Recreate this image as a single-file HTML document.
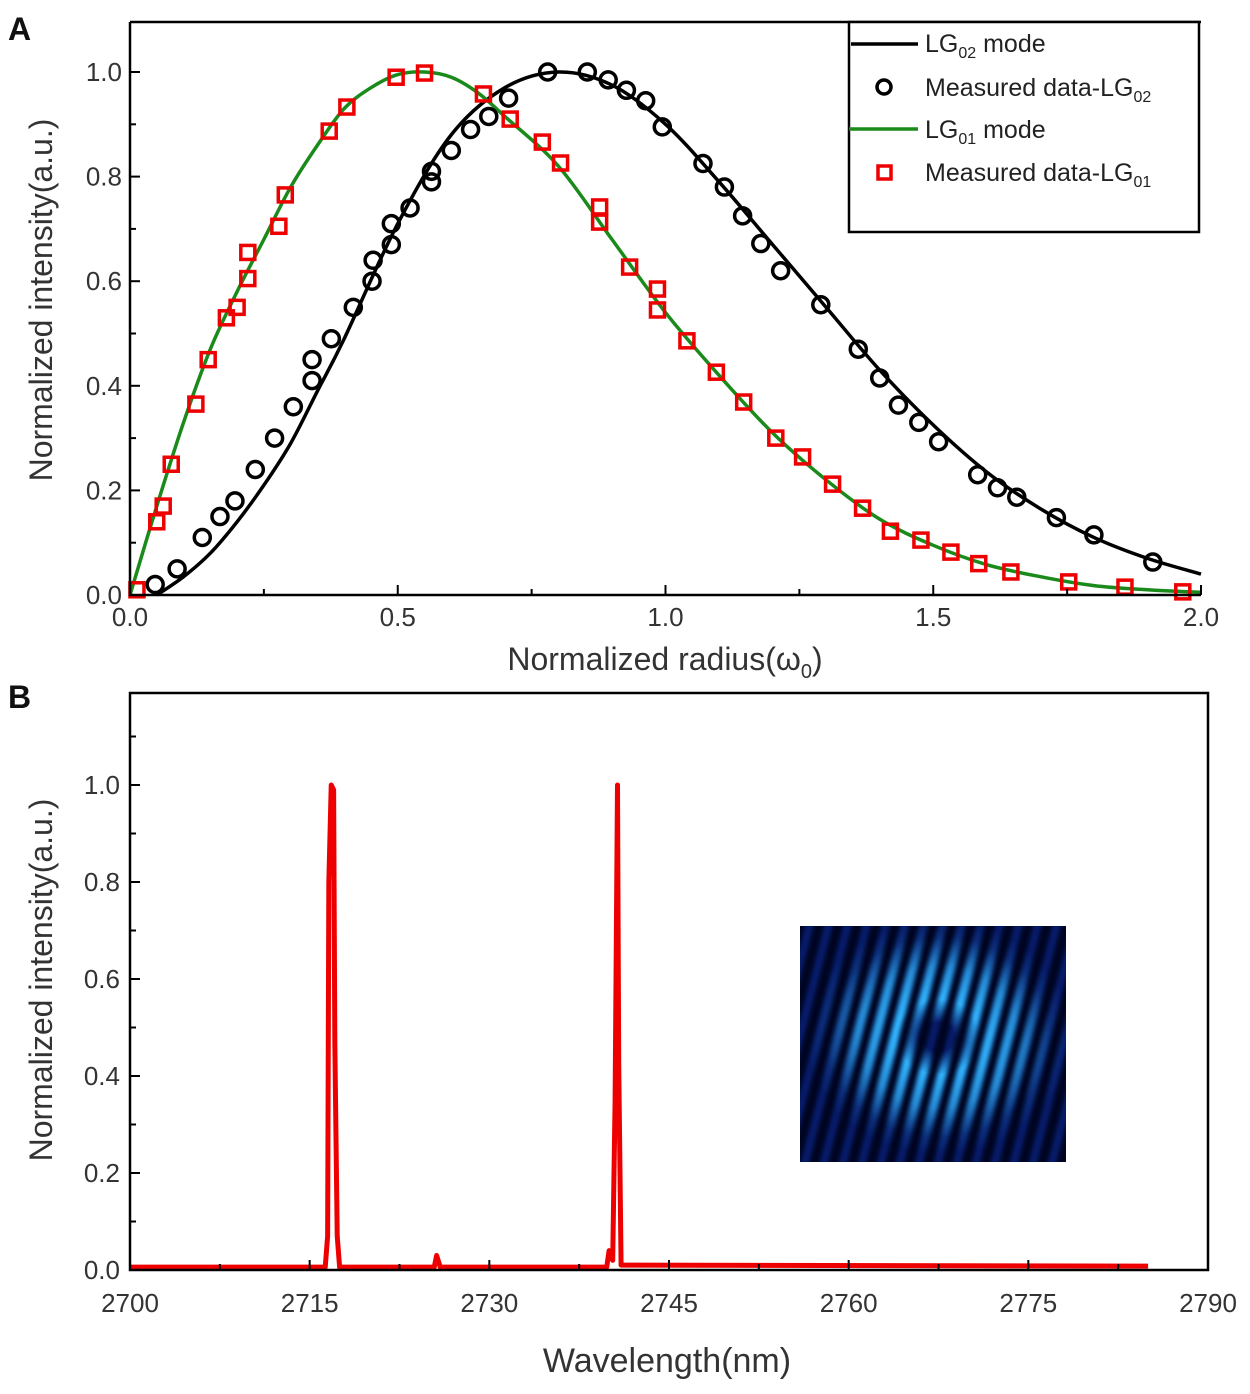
<!DOCTYPE html>
<html><head><meta charset="utf-8"><style>
html,body{margin:0;padding:0;background:#fff;}
svg{display:block;font-family:"Liberation Sans",Arial,sans-serif;}
</style></head><body>
<svg id="fig" width="1250" height="1394" viewBox="0 0 1250 1394">
<defs>
  <radialGradient id="ring" cx="0.52" cy="0.47" r="0.5">
    <stop offset="0" stop-color="#000"/>
    <stop offset="0.12" stop-color="#000"/>
    <stop offset="0.32" stop-color="#fff"/>
    <stop offset="0.6" stop-color="#bbb"/>
    <stop offset="0.85" stop-color="#222"/>
    <stop offset="1" stop-color="#000"/>
  </radialGradient>
  <mask id="ringmask"><rect x="800" y="926" width="266" height="236" fill="url(#ring)"/></mask>
  <filter id="blur"><feGaussianBlur stdDeviation="2.5"/></filter>
  <clipPath id="insetclip"><rect x="800" y="926" width="266" height="236"/></clipPath>
</defs>
<text x="8" y="40" font-size="32" font-weight="bold" fill="#111">A</text>
<text x="8" y="708" font-size="32" font-weight="bold" fill="#111">B</text>
<g id="panelA"></g>
<g id="panelB"></g>
</svg>
<script>
// ---- Panel A data ----
const lg01CurveR = [0,0.05,0.1,0.15,0.2,0.25,0.3,0.35,0.4,0.45,0.5,0.55,0.6,0.65,0.7,0.8,0.9,1.0,1.1,1.2,1.3,1.4,1.5,1.6,1.7,1.8,1.9,2.0];
const lg01CurveI = [0,0.17,0.33,0.47,0.58,0.68,0.78,0.86,0.93,0.97,0.995,1.0,0.99,0.96,0.915,0.82,0.68,0.54,0.42,0.31,0.22,0.145,0.095,0.058,0.035,0.018,0.01,0.005];
const lg02CurveR = [0.05,0.1,0.15,0.2,0.25,0.3,0.35,0.4,0.5,0.6,0.7,0.8,0.9,1.0,1.1,1.2,1.3,1.4,1.5,1.6,1.7,1.8,1.9,2.0];
const lg02CurveI = [0,0.035,0.08,0.14,0.21,0.29,0.39,0.49,0.71,0.88,0.97,1.0,0.975,0.9,0.79,0.67,0.55,0.43,0.325,0.235,0.165,0.11,0.07,0.04];
const circR = [0.047,0.088,0.135,0.168,0.196,0.234,0.27,0.305,0.34,0.34,0.376,0.417,0.452,0.454,0.488,0.488,0.523,0.563,0.563,0.6,0.636,0.67,0.707,0.78,0.854,0.893,0.927,0.963,0.994,1.07,1.11,1.144,1.178,1.215,1.29,1.36,1.40,1.435,1.473,1.51,1.583,1.62,1.656,1.73,1.80,1.91];
const circI = [0.02,0.05,0.11,0.15,0.18,0.24,0.30,0.36,0.41,0.45,0.49,0.55,0.60,0.64,0.67,0.71,0.74,0.79,0.81,0.85,0.89,0.915,0.95,1.0,1.0,0.985,0.965,0.945,0.895,0.825,0.78,0.725,0.672,0.62,0.555,0.47,0.415,0.363,0.33,0.293,0.23,0.205,0.187,0.148,0.115,0.063];
const sqR = [0.013,0.05,0.062,0.077,0.123,0.146,0.18,0.2,0.22,0.22,0.278,0.29,0.372,0.405,0.497,0.55,0.66,0.71,0.77,0.804,0.877,0.877,0.933,0.985,0.985,1.04,1.095,1.146,1.206,1.256,1.312,1.368,1.42,1.477,1.533,1.585,1.645,1.753,1.858,1.966];
const sqI = [0.01,0.14,0.17,0.25,0.365,0.45,0.53,0.55,0.605,0.655,0.705,0.765,0.887,0.933,0.99,0.998,0.958,0.91,0.866,0.826,0.742,0.713,0.627,0.585,0.545,0.486,0.426,0.369,0.30,0.264,0.212,0.166,0.122,0.105,0.082,0.06,0.044,0.025,0.015,0.006];
const xTicksA = [0,0.5,1.0,1.5,2.0];
const xTickLabelsA = ["0.0","0.5","1.0","1.5","2.0"];
const yTicksA = [0,0.2,0.4,0.6,0.8,1.0];
const yTickLabelsA = ["0.0","0.2","0.4","0.6","0.8","1.0"];
// ---- Panel B data ----
const specW = [2700,2716.3,2716.5,2716.6,2716.8,2717.0,2717.1,2717.3,2717.5,2725.4,2725.6,2725.9,2739.8,2740.0,2740.3,2740.5,2740.7,2740.8,2741.0,2785];
const specI = [0.006,0.006,0.07,0.8,1.0,0.99,0.47,0.07,0.006,0.006,0.03,0.006,0.006,0.04,0.02,0.35,1.0,0.43,0.01,0.008];
const xTicksB = [2700,2715,2730,2745,2760,2775,2790];
const xTickLabelsB = ["2700","2715","2730","2745","2760","2775","2790"];
const yTicksB = [0,0.2,0.4,0.6,0.8,1.0];
const yTickLabelsB = ["0.0","0.2","0.4","0.6","0.8","1.0"];

const NS="http://www.w3.org/2000/svg";
function mk(tag,attrs,parent){const e=document.createElementNS(NS,tag);for(const k in attrs)e.setAttribute(k,attrs[k]);parent.appendChild(e);return e;}
const A=document.getElementById('panelA'), B=document.getElementById('panelB');

const ax={l:130,r:1201,t:22,b:595};
const xA=v=>ax.l+v/2.0*(ax.r-ax.l);
const yA=v=>595-v*523;
function smooth(xs,ys,fx,fy){
  const p=xs.map((x,i)=>[fx(x),fy(ys[i])]);let d=`M${p[0][0]},${p[0][1]}`;
  for(let i=0;i<p.length-1;i++){const p0=p[i-1]||p[i],p1=p[i],p2=p[i+1],p3=p[i+2]||p2;
    d+=` C${p1[0]+(p2[0]-p0[0])/6},${p1[1]+(p2[1]-p0[1])/6} ${p2[0]-(p3[0]-p1[0])/6},${p2[1]-(p3[1]-p1[1])/6} ${p2[0]},${p2[1]}`;}
  return d;}
let e;
e=mk('path',{d:smooth(lg02CurveR,lg02CurveI,xA,yA),fill:'none',stroke:'#000','stroke-width':3.5},A);


e=mk('path',{d:smooth(lg01CurveR,lg01CurveI,xA,yA),fill:'none',stroke:'#1a8a1a','stroke-width':3.5},A);


circR.forEach((r,i)=>{const c=mk('circle',{cx:xA(r),cy:yA(circI[i]),r:8,fill:'none',stroke:'#000','stroke-width':3.5},A);

});
sqR.forEach((r,i)=>{const s=mk('rect',{x:xA(r)-7,y:yA(sqI[i])-7,width:14,height:14,fill:'none',stroke:'#e00','stroke-width':3.5},A);

});
e=mk('path',{d:`M${ax.l},${ax.t} V${ax.b} H${ax.r} M${ax.l},${ax.t} H${ax.r}`,fill:'none',stroke:'#000','stroke-width':2.5},A);


for(let v=0;v<=2.0001;v+=0.25){mk('line',{x1:xA(v),x2:xA(v),y1:ax.b,y2:ax.b-(Math.abs(v*2-Math.round(v*2))<1e-6?10:6),stroke:'#000','stroke-width':2},A);}
for(let v=0;v<=1.05;v+=0.1){mk('line',{x1:ax.l,x2:ax.l+(Math.round(v*10)%2==0?10:6),y1:yA(v),y2:yA(v),stroke:'#000','stroke-width':2},A);}
xTicksA.forEach((v,i)=>{const t=mk('text',{x:xA(v),y:626,'font-size':26,'text-anchor':'middle',fill:'#333'},A);t.textContent=xTickLabelsA[i];

});
yTicksA.forEach((v,i)=>{const t=mk('text',{x:122,y:yA(v)+9,'font-size':26,'text-anchor':'end',fill:'#333'},A);t.textContent=yTickLabelsA[i];

});
e=mk('text',{x:665,y:670,'font-size':32,'text-anchor':'middle',fill:'#333'},A);
e.innerHTML='Normalized radius(ω<tspan font-size="20" dy="8">0</tspan><tspan dy="-8">)</tspan>';


e=mk('text',{x:0,y:0,'font-size':32,'text-anchor':'middle',fill:'#333',transform:'translate(52,300) rotate(-90)'},A);
e.textContent='Normalized intensity(a.u.)';


const lg=mk('g',{},A);


mk('rect',{x:849,y:22,width:350,height:210,fill:'#fff',stroke:'#000','stroke-width':2.5},lg);
mk('line',{x1:851,x2:918,y1:44,y2:44,stroke:'#000','stroke-width':3.5},lg);
mk('circle',{cx:884,cy:87,r:7,fill:'none',stroke:'#000','stroke-width':3.5},lg);
mk('line',{x1:849,x2:918,y1:129,y2:129,stroke:'#1a8a1a','stroke-width':3.5},lg);
mk('rect',{x:878,y:166,width:13,height:13,fill:'none',stroke:'#e00','stroke-width':3.5},lg);
const legTexts=[[52,'LG<tspan font-size="16" dy="6">02</tspan><tspan dy="-6"> mode</tspan>','legend-entry-lg02-mode'],
[96,'Measured data-LG<tspan font-size="16" dy="6">02</tspan>','legend-entry-lg02-measured'],
[138,'LG<tspan font-size="16" dy="6">01</tspan><tspan dy="-6"> mode</tspan>','legend-entry-lg01-mode'],
[181,'Measured data-LG<tspan font-size="16" dy="6">01</tspan>','legend-entry-lg01-measured']];
legTexts.forEach(l=>{const t=mk('text',{x:925,y:l[0],'font-size':25,fill:'#222'},lg);t.innerHTML=l[1];

});

// ---- Panel B ----
const bx={l:130,r:1208,t:693,b:1270};
const xB=v=>bx.l+(v-2700)/90*(bx.r-bx.l);
const yB=v=>1270-v*485;
let d='';specW.forEach((w,i)=>{d+=(i?'L':'M')+xB(w)+','+yB(specI[i]);});
e=mk('path',{d:d,fill:'none',stroke:'#e00','stroke-width':5,'stroke-linejoin':'round'},B);


e=mk('path',{d:`M${bx.l},${bx.t} V${bx.b} H${bx.r} V${bx.t} Z`,fill:'none',stroke:'#000','stroke-width':2.5},B);


for(let v=2700;v<=2790;v+=7.5){mk('line',{x1:xB(v),x2:xB(v),y1:bx.b,y2:bx.b-((v-2700)%15==0?10:6),stroke:'#000','stroke-width':2},B);}
for(let k=0;k<=11;k++){const v=k/10;mk('line',{x1:bx.l,x2:bx.l+(k%2==0?10:6),y1:yB(v),y2:yB(v),stroke:'#000','stroke-width':2},B);}
xTicksB.forEach((v,i)=>{const t=mk('text',{x:xB(v),y:1312,'font-size':26,'text-anchor':'middle',fill:'#333'},B);t.textContent=xTickLabelsB[i];

});
yTicksB.forEach((v,i)=>{const t=mk('text',{x:120,y:yB(v)+9,'font-size':26,'text-anchor':'end',fill:'#333'},B);t.textContent=yTickLabelsB[i];

});
e=mk('text',{x:667,y:1372,'font-size':34,'text-anchor':'middle',fill:'#333'},B);
e.textContent='Wavelength(nm)';


e=mk('text',{x:0,y:0,'font-size':32,'text-anchor':'middle',fill:'#333',transform:'translate(52,980) rotate(-90)'},B);
e.textContent='Normalized intensity(a.u.)';


const ins=mk('g',{'clip-path':'url(#insetclip)'},B);


mk('rect',{x:800,y:926,width:266,height:236,fill:'#000520'},ins);
const st2=mk('g',{filter:'url(#blur)',opacity:0.55},ins);
for(let k=-3;k<16;k++){const x0=790+k*19;mk('line',{x1:x0+40,y1:920,x2:x0-25,y2:1170,stroke:'#0a30b0','stroke-width':8},st2);}
const st=mk('g',{mask:'url(#ringmask)',filter:'url(#blur)'},ins);
for(let k=-3;k<16;k++){const x0=790+k*19;mk('line',{x1:x0+40,y1:920,x2:x0-25,y2:1170,stroke:'#30b8ff','stroke-width':9},st);}
</script>
</body></html>
